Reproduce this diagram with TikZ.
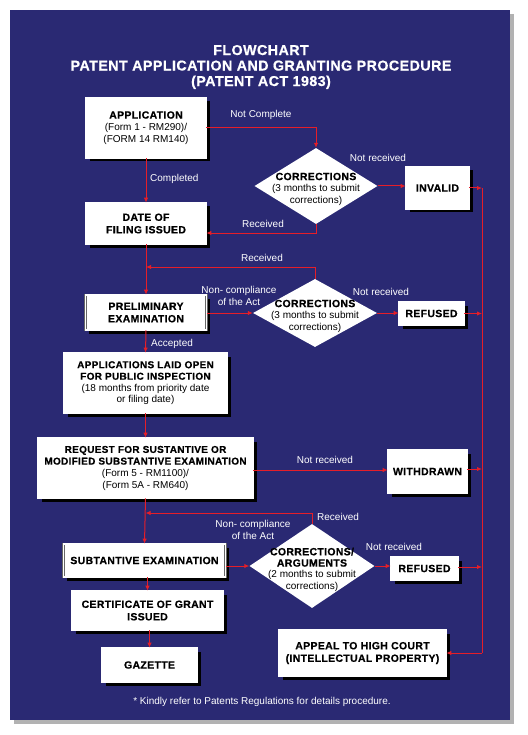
\documentclass[tikz,border=0pt]{standalone}
\usepackage{fontspec}
\setmainfont{Liberation Sans}[BoldFeatures={FakeBold=0.5,LetterSpace=3}]
\usetikzlibrary{arrows.meta,shapes.geometric,calc}
\definecolor{panel}{RGB}{42,41,115}
\definecolor{lnred}{RGB}{230,30,40}
\begin{document}
\begin{tikzpicture}[x=1pt,y=-1pt,
  box/.style={fill=white, draw=black!60, double=white, double distance=1.3pt, line width=0.7pt,
    preaction={fill=black, draw=none, transform canvas={xshift=3.5pt, yshift=-3.5pt}},
    align=center, inner sep=1pt, text=black, font=\fontsize{10}{12}\selectfont},
  dia/.style={diamond, fill=white, draw=none, inner sep=0pt},
  diatext/.style={align=center, text=black, inner sep=0pt, font=\fontsize{10}{11.5}\selectfont},
  lbl/.style={text=white, align=center, inner sep=0pt, font=\fontsize{10}{12}\selectfont},
  arr/.style={draw=lnred, line width=1pt, -{Latex[length=5pt,width=4.5pt]}},
  ln/.style={draw=lnred, line width=1pt},
  hb/.style={font=\fontsize{10.5}{12.5}\selectfont\bfseries}
]
\useasboundingbox (0,0) rectangle (527,735);
\fill[white] (0,0) rectangle (527,735);
\fill[black!30] (14,14) rectangle (514,724);
\fill[panel] (10,10) rectangle (510,720);

\node[text=white, align=center, font=\fontsize{14.3}{15.5}\selectfont\bfseries] (title) at (261,67)
  {FLOWCHART\\PATENT APPLICATION AND GRANTING PROCEDURE\\(PATENT ACT 1983)};

% boxes
\node[box, minimum width=120pt, minimum height=60pt] (app) at (146,128)
  {{\bfseries\fontsize{10.5}{12.5}\selectfont APPLICATION}\\(Form 1 - RM290)/\\(FORM 14 RM140)};
\node[box, hb, minimum width=120pt, minimum height=41pt] (date) at (146,223.5)
  {DATE OF\\FILING ISSUED};
\node[box, hb, minimum width=121pt, minimum height=35pt] (prelim) at (146,312.5)
  {PRELIMINARY\\EXAMINATION};
\node[box, minimum width=163pt, minimum height=60pt, font=\fontsize{10}{11.5}\selectfont] (open) at (145.5,383)
  {{\bfseries APPLICATIONS LAID OPEN}\\{\bfseries FOR PUBLIC INSPECTION}\\(18 months from priority date\\or filing date)};
\node[box, minimum width=215pt, minimum height=60pt, font=\fontsize{10}{11.7}\selectfont] (req) at (145.5,468)
  {{\bfseries REQUEST FOR SUSTANTIVE OR}\\{\bfseries MODIFIED SUBSTANTIVE EXAMINATION}\\(Form 5 - RM1100)/\\(Form 5A - RM640)};
\node[box, hb, minimum width=162pt, minimum height=33pt] (subt) at (144.5,560.5)
  {SUBTANTIVE EXAMINATION};
\node[box, hb, minimum width=151pt, minimum height=39pt] (cert) at (147.5,610.5)
  {CERTIFICATE OF GRANT\\ISSUED};
\node[box, hb, minimum width=95pt, minimum height=34pt] (gaz) at (149.5,665)
  {GAZETTE};
\node[box, hb, minimum width=63pt, minimum height=42pt] (inv) at (437.5,188)
  {INVALID};
\node[box, hb, minimum width=65pt, minimum height=23pt] (ref1) at (431.5,313.5)
  {REFUSED};
\node[box, hb, minimum width=79pt, minimum height=43pt] (wd) at (427.5,471.5)
  {WITHDRAWN};
\node[box, hb, minimum width=67pt, minimum height=23pt] (ref2) at (424.5,568.5)
  {REFUSED};
\node[box, hb, minimum width=167pt, minimum height=46pt] (appeal) at (362.5,653)
  {APPEAL TO HIGH COURT\\(INTELLECTUAL PROPERTY)};

% diamonds
\node[dia, minimum width=123pt, minimum height=76pt] (c1) at (316,186) {};
\node[diatext] (c1t) at (316,189) {{\bfseries\fontsize{10.5}{12}\selectfont CORRECTIONS}\\(3 months to submit\\corrections)};
\node[dia, minimum width=124pt, minimum height=68pt] (c2) at (315,313) {};
\node[diatext] (c2t) at (315,316) {{\bfseries\fontsize{10.5}{12}\selectfont CORRECTIONS}\\(3 months to submit\\corrections)};
\node[dia, minimum width=125pt, minimum height=84pt] (c3) at (312,566) {};
\node[diatext, font=\fontsize{10}{11.3}\selectfont] (c3t) at (312,569.5) {{\bfseries\fontsize{10.5}{11.3}\selectfont CORRECTIONS/}\\{\bfseries\fontsize{10.5}{11.3}\selectfont ARGUMENTS}\\(2 months to submit\\corrections)};

% helper coordinates
\coordinate (r1) at (316,233);
\coordinate (r2) at (315,267);
\coordinate (r3) at (312,513);
\coordinate (railtop) at (482,188);
\coordinate (railbot) at (482,653);

% connectors
\draw[arr] (app.south) -- (date.north);
\draw[arr] (app.east) -| (c1.north);
\draw[arr] (c1.south) -- (r1) -- (date.east |- r1);
\draw[arr] (c1.east) -- (c1.east -| inv.west);
\draw[arr] (inv.east) -- (railtop);
\draw[ln] (railtop) -- (railbot);
\draw[arr] (railbot) -- (appeal.east);
\draw[arr] (date.south) -- (prelim.north);
\draw[arr] (c2.north) -- (r2) -- (r2 -| date.south);
\draw[arr] (prelim.east |- c2.west) -- (c2.west);
\draw[arr] (c2.east) -- (c2.east -| ref1.west);
\draw[arr] (ref1.east) -- (ref1.east -| railtop);
\draw[arr] (prelim.south) -- (open.north);
\draw[arr] (open.south) -- (req.north);
\draw[arr] (req.east |- 0,470) -- (wd.west |- 0,470);
\draw[arr] (wd.east |- 0,469) -- (railtop |- 0,469);
\draw[arr] (req.south) -- (subt.north);
\draw[arr] (c3.north) -- (r3) -- (r3 -| req.south);
\draw[arr] (subt.east |- c3.west) -- (c3.west);
\draw[arr] (c3.east) -- (c3.east -| ref2.west);
\draw[arr] (ref2.east |- 0,567) -- (railtop |- 0,567);
\draw[arr] (subt.south -| cert.north) -- (cert.north);
\draw[arr] (cert.south -| gaz.north) -- (gaz.north);

% labels
\node[lbl] (l1) at (261,115) {Not Complete};
\node[lbl, anchor=west] (l2) at (150,179) {Completed};
\node[lbl] (l3) at (263,224) {Received};
\node[lbl] (l4) at (378,158) {Not received};
\node[lbl] (l5) at (262,258) {Received};
\node[lbl] (l6) at (239,296) {Non- compliance\\of the Act};
\node[lbl] (l7) at (381,292) {Not received};
\node[lbl, anchor=west] (l8) at (151,344) {Accepted};
\node[lbl] (l9) at (325,460) {Not received};
\node[lbl, anchor=west] (l10) at (317,517) {Received};
\node[lbl] (l11) at (253,530) {Non- compliance\\of the Act};
\node[lbl] (l12) at (394,547) {Not received};

\node[text=white, inner sep=0pt, font=\fontsize{10}{11}\selectfont] (foot) at (262,702)
  {* Kindly refer to Patents Regulations for details procedure.};
\end{tikzpicture}
\end{document}
